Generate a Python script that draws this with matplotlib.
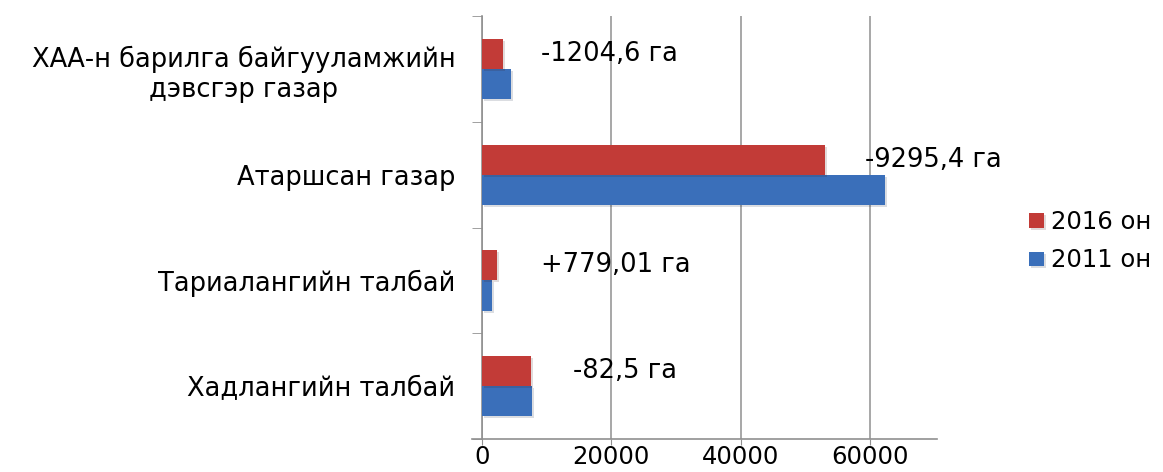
import matplotlib.pyplot as plt
import matplotlib.patheffects as pe
import numpy as np

plt.rcParams['font.family'] = ['DejaVu Sans']

# categories, bottom to top
categories = ["Хадлангийн талбай", "Тариалангийн талбай", "Атаршсан газар",
              "ХАА-н барилга байгууламжийн\nдэвсгэр газар"]
val_2011 = [7700, 1550, 62300, 4500]
val_2016 = [7617.5, 2329, 53005, 3295]
changes = ["-82,5 га", "+779,01 га", "-9295,4 га", "-1204,6 га"]
change_x = [14100, 9100, 59200, 9100]

red = "#C23B37"
blue = "#3A6FBA"

fig = plt.figure(figsize=(11.63, 4.72), dpi=100)
ax = fig.add_axes([0.4144, 0.0699, 0.3912, 0.8961])

y = np.arange(len(categories))
h = 0.285
shadow = [pe.SimplePatchShadow(offset=(1.5, -1.5), alpha=0.15), pe.Normal()]
b1 = ax.barh(y - h / 2, val_2011, height=h, color=blue, label="2011 он", zorder=3)
b2 = ax.barh(y + h / 2, val_2016, height=h, color=red, label="2016 он", zorder=3)
for bar in list(b1) + list(b2):
    bar.set_path_effects(shadow)

for yi, txt, xv in zip(y, changes, change_x):
    ax.text(xv, yi + h / 2, txt, fontsize=18.5, va="center", ha="left", zorder=4)

ax.set_xlim(0, 70300)
ax.set_ylim(-0.5, 3.5)
ax.set_xticks([0, 20000, 40000, 60000])
ax.tick_params(axis="x", labelsize=17.5, length=4, color="#909090", pad=0)
ax.xaxis.grid(True, color="#a0a0a0", linewidth=1.3, zorder=0)

ax.set_yticks(y)
ax.set_yticklabels(categories, fontsize=18.5, ha="right", multialignment="center")
ax.tick_params(axis="y", length=0, pad=19)
ax.set_yticks([-0.5, 0.5, 1.5, 2.5, 3.5], minor=True)
ax.tick_params(axis="y", which="minor", length=7.5, color="#909090")

for s in ["top", "right"]:
    ax.spines[s].set_visible(False)
for s in ["left", "bottom"]:
    ax.spines[s].set_color("#909090")
    ax.spines[s].set_linewidth(1.2)
ax.spines["bottom"].set_bounds(-1600, 70300)

handles, labels = ax.get_legend_handles_labels()
fig.legend(handles[::-1], labels[::-1], loc="center left", bbox_to_anchor=(0.8807, 0.489),
           frameon=False, fontsize=17.5, handlelength=0.6, handleheight=0.55,
           handletextpad=0.3, labelspacing=0.6, borderaxespad=0, borderpad=0.2)

fig.savefig("out.png", dpi=100)
